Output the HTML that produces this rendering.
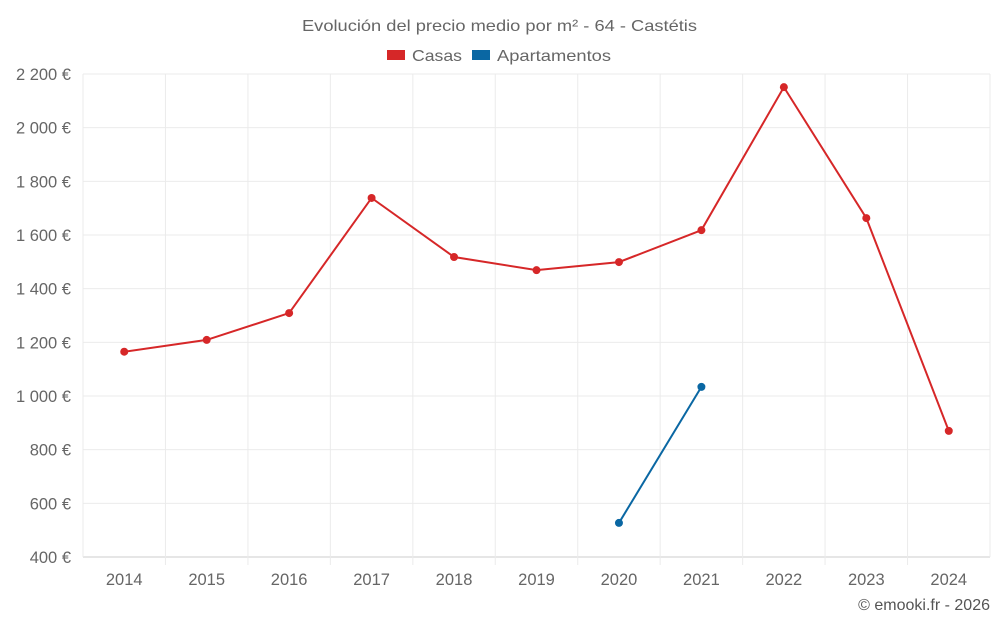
<!DOCTYPE html>
<html><head><meta charset="utf-8"><style>
body{margin:0;background:#fff;font-family:"Liberation Sans",sans-serif}
</style></head><body>
<svg id="c" width="1000" height="625" xmlns="http://www.w3.org/2000/svg">
<text x="302" y="31" textLength="395" lengthAdjust="spacingAndGlyphs" font-size="16" fill="#666">Evolución del precio medio por m² - 64 - Castétis</text>
<g><rect x="387" y="50" width="18" height="10" fill="#d62728"/><text x="412" y="61" textLength="50" lengthAdjust="spacingAndGlyphs" font-size="16" fill="#666">Casas</text></g>
<g><rect x="472" y="50" width="18" height="10" fill="#0a67a3"/><text x="497" y="61" textLength="114" lengthAdjust="spacingAndGlyphs" font-size="16" fill="#666">Apartamentos</text></g>
<g id="grid"></g><g id="axes"></g><g id="series"></g>
<text x="990" y="610" text-anchor="end" font-size="16" fill="#555">© emooki.fr - 2026</text>
</svg>
<script>
const categories=[2014,2015,2016,2017,2018,2019,2020,2021,2022,2023,2024];
const casas=[1165,1209,1309,1738,1518,1469,1499,1618,2151,1663,870];
const apartamentos=[null,null,null,null,null,null,527,1034,null,null,null];
const yTicks=[400,600,800,1000,1200,1400,1600,1800,2000,2200];
const yTickLabels=["400 €","600 €","800 €","1 000 €","1 200 €","1 400 €","1 600 €","1 800 €","2 000 €","2 200 €"];
const L=83,R=990,T=74,B=557,yMin=400,yMax=2200;
const bw=(R-L)/categories.length;
const x=i=>L+bw*(i+0.5);
const y=v=>B-(v-yMin)/(yMax-yMin)*(B-T);
const NS="http://www.w3.org/2000/svg";
function mk(tag,attrs,parent,txt){const e=document.createElementNS(NS,tag);for(const k in attrs)e.setAttribute(k,attrs[k]);if(txt!==undefined)e.textContent=txt;parent.appendChild(e);return e;}
const grid=document.getElementById('grid'),axes=document.getElementById('axes'),series=document.getElementById('series');
yTicks.forEach((t,i)=>{
 const l=mk('line',{x1:L,x2:R,y1:y(t),y2:y(t),stroke:i==0?'#ccc':'#ebebeb'},grid);
 
 
 const tx=mk('text',{x:L-12,y:y(t)+6,'text-anchor':'end','font-size':16.5,fill:'#666'},axes,yTickLabels[i]);
 
 
});
for(let i=0;i<=categories.length;i++){
 const gx=L+bw*i;
 const l=mk('line',{x1:gx,x2:gx,y1:T,y2:B+(i>0&&i<categories.length?8:0),stroke:'#ebebeb'},grid);
 
 
}
categories.forEach((c,i)=>{
 const tx=mk('text',{x:x(i),y:585,'text-anchor':'middle','font-size':16.5,fill:'#666'},axes,c);
 
 
});
function draw(vals,color,name){
 let d='';let pen=false;
 vals.forEach((v,i)=>{if(v==null){pen=false;return;}d+=(pen?'L':'M')+x(i)+' '+y(v)+' ';pen=true;});
 const p=mk('path',{d:d,fill:'none',stroke:color,'stroke-width':2},series);
 
 
 vals.forEach((v,i)=>{if(v==null)return;
  const c=mk('circle',{cx:x(i),cy:y(v),r:4,fill:color},series);
  
  
 });
}
draw(casas,'#d62728','casas');
draw(apartamentos,'#0a67a3','apartamentos');
</script>
</body></html>
